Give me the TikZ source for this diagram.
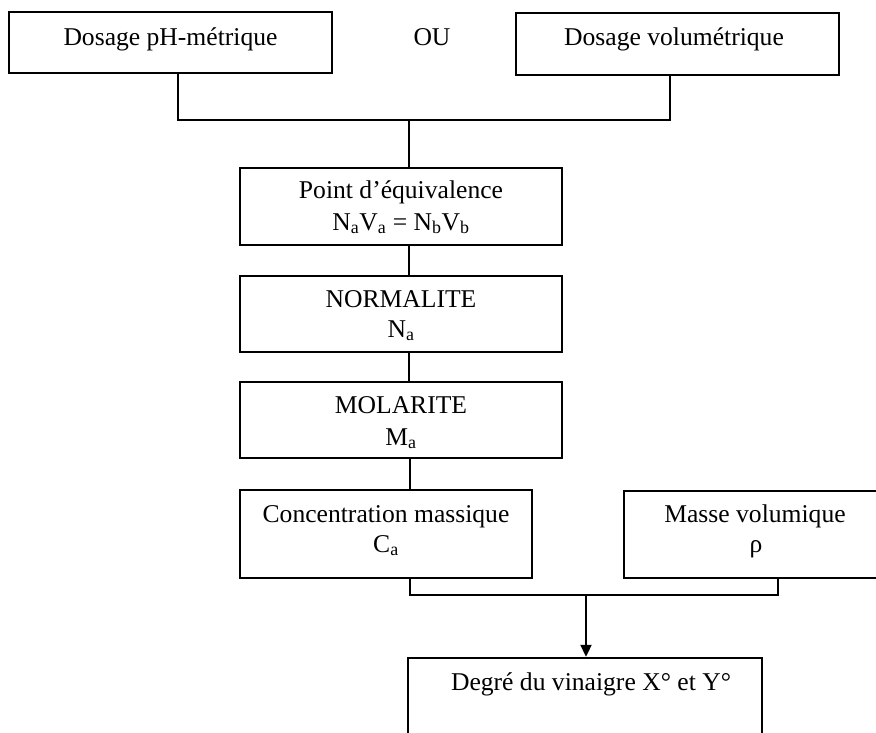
\documentclass[tikz,border=0pt]{standalone}
\usepackage{fontspec}
\setmainfont{Liberation Serif}
\usetikzlibrary{arrows.meta}
\begin{document}
\begin{tikzpicture}[x=1pt,y=-1pt,
  box/.style={draw,rectangle,line width=2.4pt,inner sep=0pt},
  link/.style={line width=2pt},
  lbl/.style={anchor=base,inner sep=0pt,font=\fontsize{25.6}{30}\selectfont}]
\useasboundingbox[fill=white] (0,0) rectangle (876,732);

% boxes
\node[box,minimum width=323pt,minimum height=61pt] (b1) at (170.5,42.5) {};
\node[box,minimum width=323pt,minimum height=62pt] (b2) at (677.5,44) {};
\node[box,minimum width=322pt,minimum height=77pt] (b3) at (401,206.5) {};
\node[box,minimum width=322pt,minimum height=76pt] (b4) at (401,314) {};
\node[box,minimum width=322pt,minimum height=76pt] (b5) at (401,420) {};
\node[box,minimum width=292pt,minimum height=88pt] (b6) at (386,534) {};
\node[box,minimum width=266pt,minimum height=87pt] (b7) at (757,534.5) {};
\node[box,minimum width=354pt,minimum height=102pt] (b8) at (585,709) {};

% labels
\node[lbl] (t1) at (170.5,45) {Dosage pH-métrique};
\node[lbl] (t2) at (674,45) {Dosage volumétrique};
\node[lbl] (ou) at (432,45) {OU};
\node[lbl] (t3a) at (401,198) {Point d’équivalence};
\node[lbl] (t3b) at (401,230) {N\textsubscript{a}V\textsubscript{a} = N\textsubscript{b}V\textsubscript{b}};
\node[lbl] (t4a) at (401,307) {NORMALITE};
\node[lbl] (t4b) at (401,337) {N\textsubscript{a}};
\node[lbl] (t5a) at (401,413) {MOLARITE};
\node[lbl] (t5b) at (401,445) {M\textsubscript{a}};
\node[lbl] (t6a) at (386,522) {Concentration massique};
\node[lbl] (t6b) at (386,552) {C\textsubscript{a}};
\node[lbl] (t7a) at (755,522) {Masse volumique};
\node[lbl] (t7b) at (756,552) {ρ};
\node[lbl] (t8) at (591,690) {Degré du vinaigre X° et Y°};

% junction points
\coordinate (j1) at (178,120);
\coordinate (j2) at (670,120);
\coordinate (j3) at (409,120);
\coordinate (j4) at (410,595);
\coordinate (j5) at (778,595);
\coordinate (j6) at (586,595);

% connectors
\draw[link] (b1.south -| j1) -- (j1) -- (j2) -- (b2.south -| j2);
\draw[link] (j3) -- (b3.north -| j3);
\draw[link] (b3.south -| j3) -- (b4.north -| j3);
\draw[link] (b4.south -| j3) -- (b5.north -| j3);
\draw[link] (b5.south -| j4) -- (b6.north -| j4);
\draw[link] (b6.south -| j4) -- (j4) -- (j5) -- (b7.south -| j5);
\draw[link,-{Triangle[width=11pt,length=12pt]}] (j6) -- (b8.north -| j6);
\end{tikzpicture}
\end{document}
